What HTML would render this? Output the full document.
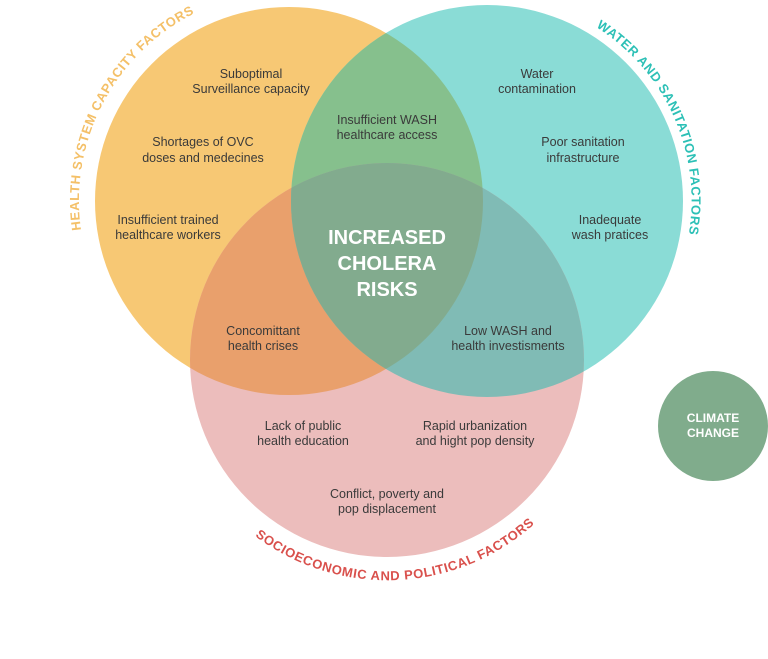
<!DOCTYPE html>
<html><head><meta charset="utf-8"><style>
html,body{margin:0;padding:0;background:#fff;}
svg{display:block;}
text{font-family:"Liberation Sans",sans-serif;}
.t{font-size:12.5px;fill:#3a3a3a;text-anchor:middle;}
</style></head><body>
<svg width="768" height="659" viewBox="0 0 768 659">
<defs>
<clipPath id="cy"><circle cx="289" cy="201" r="194"/></clipPath>
<clipPath id="ct"><circle cx="487" cy="201" r="196"/></clipPath>
<clipPath id="cp"><circle cx="387" cy="360" r="197"/></clipPath>
<path id="pl" d="M81,230 A210,210 0 0 1 394,19"/>
<path id="pr" d="M596,27 A205,205 0 0 1 664,303"/>
<path id="pb" d="M255,536 A220,220 0 0 0 578,470"/>
</defs>
<circle cx="289" cy="201" r="194" fill="#f7c874"/>
<circle cx="487" cy="201" r="196" fill="#8adcd6"/>
<circle cx="387" cy="360" r="197" fill="#ecbdbc"/>
<g clip-path="url(#cy)"><circle cx="487" cy="201" r="196" fill="#86c08d"/><circle cx="387" cy="360" r="197" fill="#e9a06c"/></g>
<g clip-path="url(#ct)"><circle cx="387" cy="360" r="197" fill="#80bbb5"/></g>
<g clip-path="url(#cy)"><g clip-path="url(#ct)"><circle cx="387" cy="360" r="197" fill="#82ab8e"/></g></g>
<circle cx="713" cy="426" r="55" fill="#80ac8c"/>
<text x="713" y="422" fill="#fff" font-size="12" font-weight="bold" text-anchor="middle">CLIMATE</text>
<text x="713" y="437" fill="#fff" font-size="12" font-weight="bold" text-anchor="middle">CHANGE</text>
<text font-size="13" font-weight="bold" fill="#f4c068" letter-spacing="0.6"><textPath href="#pl">HEALTH SYSTEM CAPACITY FACTORS</textPath></text>
<text font-size="13" font-weight="bold" fill="#2cc0b6" letter-spacing="0.6"><textPath href="#pr">WATER AND SANITATION FACTORS</textPath></text>
<text font-size="13" font-weight="bold" fill="#d9504c" letter-spacing="0.6"><textPath href="#pb">SOCIOECONOMIC AND POLITICAL FACTORS</textPath></text>
<g fill="#fff" font-size="20" font-weight="bold" text-anchor="middle">
<text x="387" y="244">INCREASED</text><text x="387" y="270">CHOLERA</text><text x="387" y="296">RISKS</text></g>
<text class="t" x="251" y="78">Suboptimal</text><text class="t" x="251" y="93">Surveillance capacity</text>
<text class="t" x="203" y="146">Shortages of OVC</text><text class="t" x="203" y="162">doses and medecines</text>
<text class="t" x="168" y="224">Insufficient trained</text><text class="t" x="168" y="239">healthcare workers</text>
<text class="t" x="387" y="124">Insufficient WASH</text><text class="t" x="387" y="139">healthcare access</text>
<text class="t" x="537" y="78">Water</text><text class="t" x="537" y="93">contamination</text>
<text class="t" x="583" y="146">Poor sanitation</text><text class="t" x="583" y="162">infrastructure</text>
<text class="t" x="610" y="224">Inadequate</text><text class="t" x="610" y="239">wash pratices</text>
<text class="t" x="263" y="335">Concomittant</text><text class="t" x="263" y="350">health crises</text>
<text class="t" x="508" y="335">Low WASH and</text><text class="t" x="508" y="350">health investisments</text>
<text class="t" x="303" y="430">Lack of public</text><text class="t" x="303" y="445">health education</text>
<text class="t" x="475" y="430">Rapid urbanization</text><text class="t" x="475" y="445">and hight pop density</text>
<text class="t" x="387" y="498">Conflict, poverty and</text><text class="t" x="387" y="513">pop displacement</text>
</svg>
</body></html>
